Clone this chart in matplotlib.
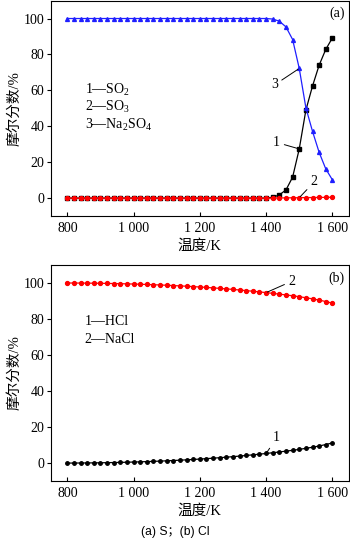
import matplotlib
matplotlib.use("Agg")
import matplotlib.pyplot as plt

plt.rcParams['font.family'] = ['Liberation Serif', 'Noto Sans CJK SC']
plt.rcParams['mathtext.fontset'] = 'custom'
plt.rcParams['mathtext.rm'] = 'Liberation Serif'
plt.rcParams['mathtext.it'] = 'Liberation Serif:italic'

# Temperature grid, K
temps = list(range(800, 1601, 20))

# (a) sulfur species, mole fraction %
so2 = [0.0] * 31 + [0.5, 1.8, 4.6, 11.7, 27.4, 49.0, 62.4, 74.0, 82.8, 89.2]
so3 = [0.0] * 31 + [0.05, 0.1, 0.15, 0.2, 0.25, 0.3, 0.35, 0.4, 0.45, 0.5]
na2so4 = [100.0] * 31 + [99.7, 98.5, 95.3, 88.3, 72.2, 50.3, 37.2, 25.5, 16.3, 10.2]

# (b) chlorine species, mole fraction %
hcl = [0.0, 0.02, 0.05, 0.08, 0.12, 0.17, 0.23, 0.30, 0.38, 0.48,
       0.58, 0.70, 0.82, 0.96, 1.10, 1.26, 1.43, 1.61, 1.80, 2.01,
       2.23, 2.47, 2.72, 2.99, 3.27, 3.57, 3.89, 4.23, 4.58, 4.95,
       5.34, 5.75, 6.18, 6.63, 7.10, 7.60, 8.20, 8.80, 9.50, 10.30, 11.20]
nacl = [100.0, 99.98, 99.95, 99.92, 99.88, 99.83, 99.77, 99.70, 99.62, 99.52,
        99.42, 99.30, 99.18, 99.04, 98.90, 98.74, 98.57, 98.39, 98.20, 97.99,
        97.77, 97.53, 97.28, 97.01, 96.73, 96.43, 96.11, 95.77, 95.42, 95.05,
        94.66, 94.25, 93.82, 93.37, 92.90, 92.40, 91.80, 91.20, 90.50, 89.70, 88.80]

xticks = [800, 1000, 1200, 1400, 1600]
xtick_labels = ['800', '1 000', '1 200', '1 400', '1 600']
yticks = [0, 20, 40, 60, 80, 100]

fig = plt.figure(figsize=(3.5, 5.43), dpi=100)
ax_a = fig.add_axes([0.145, 0.602, 0.852, 0.397])
ax_b = fig.add_axes([0.145, 0.114, 0.852, 0.398])

fs = 10
lab_font = ['Liberation Serif', 'Noto Sans CJK SC']


def style(ax):
    ax.set_xlim(750, 1650)
    ax.set_ylim(-10, 110)
    ax.set_xticks(xticks)
    ax.set_xticklabels(xtick_labels)
    ax.set_yticks(yticks)
    ax.tick_params(axis='x', direction='in', length=3, width=0.8, labelsize=fs, pad=4)
    ax.tick_params(axis='y', direction='out', length=3, width=0.8, labelsize=fs, pad=1.5)
    for s in ax.spines.values():
        s.set_linewidth(0.8)
    ax.set_xlabel('温度/K', fontsize=10.5, family=lab_font, labelpad=3)
    ax.set_ylabel('摩尔分数/%', fontsize=10.5, family=lab_font, labelpad=2)


line_kw = dict(lw=0.9)

# panel (a)
ax_a.plot(temps, so2, color='black', marker='s', ms=2.3, **line_kw)
ax_a.plot(temps, so3, color='#ff0000', marker='o', ms=2.8, **line_kw)
ax_a.plot(temps, na2so4, color='#1f1fff', marker='^', ms=2.8, **line_kw)
style(ax_a)
ax_a.text(0.985, 0.97, '(a)', transform=ax_a.transAxes, ha='right', va='top', fontsize=fs)
ax_a.text(852, 60, '1—SO$_2$', fontsize=fs, va='center')
ax_a.text(852, 50.5, '2—SO$_3$', fontsize=fs, va='center')
ax_a.text(852, 41, '3—Na$_2$SO$_4$', fontsize=fs, va='center')

arr = dict(arrowstyle='-', lw=0.7, color='black', shrinkA=1, shrinkB=1)
ax_a.annotate('3', xy=(temps[35], na2so4[35]), xytext=(1425, 63), fontsize=fs,
              ha='center', va='center', arrowprops=arr)
ax_a.annotate('1', xy=(temps[35], so2[35]), xytext=(1432, 31), fontsize=fs,
              ha='center', va='center', arrowprops=arr)
ax_a.annotate('2', xy=(temps[35], so3[35]), xytext=(1545, 9), fontsize=fs,
              ha='center', va='center', arrowprops=arr)

# panel (b)
ax_b.plot(temps, hcl, color='black', marker='o', ms=2.5, **line_kw)
ax_b.plot(temps, nacl, color='#ff0000', marker='o', ms=2.8, **line_kw)
style(ax_b)
ax_b.text(0.985, 0.97, '(b)', transform=ax_b.transAxes, ha='right', va='top', fontsize=fs)
ax_b.text(852, 78.5, '1—HCl', fontsize=fs, va='center')
ax_b.text(852, 68.5, '2—NaCl', fontsize=fs, va='center')
ax_b.annotate('2', xy=(temps[30], nacl[30]), xytext=(1478, 101), fontsize=fs,
              ha='center', va='center', arrowprops=arr)
ax_b.annotate('1', xy=(temps[30], hcl[30]), xytext=(1432, 14), fontsize=fs,
              ha='center', va='center', arrowprops=arr)

fig.text(0.5, 1 - 532 / 543, '(a) S；(b) Cl', ha='center', va='center', fontsize=8.7,
         family=['Liberation Sans', 'Noto Sans CJK SC'])

fig.savefig('out.png', dpi=100)
